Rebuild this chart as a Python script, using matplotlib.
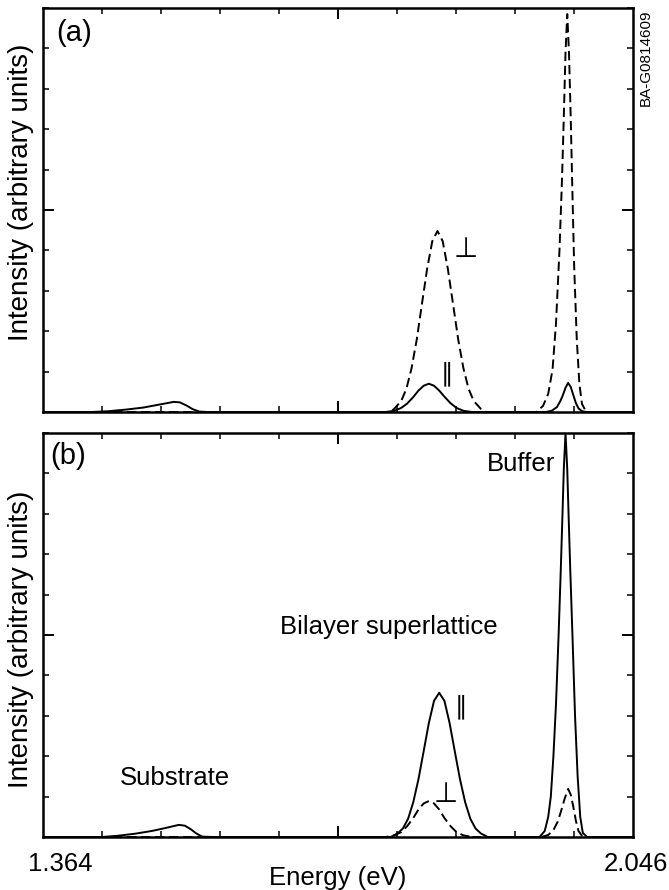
import matplotlib
matplotlib.use("Agg")
import matplotlib.pyplot as plt
from matplotlib.ticker import MultipleLocator, FixedLocator

plt.rcParams['font.family'] = ['Liberation Sans', 'DejaVu Sans']

# Energy axis limits (eV)
E_MIN, E_MAX = 1.364, 2.046

# ---- Panel (a) spectra ----
a_sub_E = [1.364, 1.420, 1.440, 1.460, 1.480, 1.495, 1.505, 1.515, 1.522, 1.530, 1.537, 1.545, 1.555, 1.760]
a_sub_I = [0.0, 0.0, 0.02, 0.06, 0.11, 0.17, 0.21, 0.25, 0.24, 0.16, 0.07, 0.01, 0.0, 0.0]

a_par_E = [1.760, 1.770, 1.778, 1.785, 1.792, 1.798, 1.804, 1.810, 1.816, 1.822, 1.828, 1.835, 1.842, 1.850, 1.860]
a_par_I = [0.0, 0.03, 0.10, 0.21, 0.37, 0.53, 0.65, 0.70, 0.65, 0.53, 0.38, 0.22, 0.10, 0.03, 0.0]

a_perp_E = [1.364, 1.766, 1.770, 1.778, 1.784, 1.790, 1.796, 1.802, 1.808, 1.814, 1.820, 1.826, 1.832,
            1.838, 1.844, 1.850, 1.856, 1.862, 1.870, 1.876]
a_perp_I = [0.0, 0.0, 0.08, 0.27, 0.57, 1.08, 1.79, 2.67, 3.54, 4.23, 4.48, 4.23, 3.54,
            2.67, 1.79, 1.08, 0.57, 0.27, 0.08, 0.0]

a_buf_perp_E = [1.876, 1.934, 1.942, 1.948, 1.953, 1.957, 1.961, 1.964, 1.966, 1.968, 1.970,
                1.972, 1.974, 1.976, 1.978, 1.981, 1.984, 1.987, 1.992, 2.046]
a_buf_perp_I = [0.0, 0.0, 0.15, 0.45, 1.05, 2.2, 4.0, 5.8, 7.3, 8.9, 9.85,
                8.9, 7.3, 5.4, 3.6, 1.8, 0.7, 0.2, 0.0, 0.0]

a_buf_par_E = [1.860, 1.945, 1.952, 1.958, 1.962, 1.965, 1.968, 1.971, 1.974, 1.977, 1.980, 1.983, 1.987, 1.992, 2.046]
a_buf_par_I = [0.0, 0.0, 0.03, 0.12, 0.27, 0.42, 0.60, 0.72, 0.62, 0.42, 0.22, 0.09, 0.02, 0.0, 0.0]

# ---- Panel (b) spectra ----
b_sub_E = [1.364, 1.432, 1.450, 1.470, 1.490, 1.505, 1.515, 1.521, 1.528, 1.535, 1.541, 1.548, 1.560, 1.766]
b_sub_I = [0.0, 0.0, 0.03, 0.08, 0.15, 0.22, 0.27, 0.30, 0.28, 0.19, 0.09, 0.01, 0.0, 0.0]

b_par_E = [1.766, 1.774, 1.780, 1.786, 1.792, 1.798, 1.804, 1.810, 1.816, 1.822, 1.828, 1.834, 1.840,
           1.846, 1.852, 1.858, 1.864, 1.870, 1.878]
b_par_I = [0.0, 0.09, 0.21, 0.45, 0.86, 1.43, 2.12, 2.82, 3.37, 3.57, 3.37, 2.82, 2.12,
           1.43, 0.86, 0.45, 0.21, 0.09, 0.0]

b_perp_E = [1.364, 1.760, 1.770, 1.778, 1.785, 1.792, 1.798, 1.804, 1.810, 1.816, 1.822, 1.828, 1.835,
            1.842, 1.850, 1.860]
b_perp_I = [0.0, 0.0, 0.04, 0.12, 0.27, 0.47, 0.68, 0.83, 0.89, 0.83, 0.68, 0.47, 0.27,
            0.12, 0.04, 0.0]

b_buf_par_E = [1.878, 1.938, 1.944, 1.948, 1.951, 1.954, 1.957, 1.960, 1.9625, 1.9645, 1.966, 1.968,
               1.970, 1.9715, 1.9735, 1.976, 1.979, 1.982, 1.985, 1.988, 1.993, 2.046]
b_buf_par_I = [0.0, 0.0, 0.15, 0.5, 1.0, 2.0, 3.3, 5.0, 6.6, 8.0, 9.1, 10.0,
               9.1, 8.0, 6.6, 5.0, 3.0, 1.5, 0.5, 0.1, 0.0, 0.0]

b_buf_perp_E = [1.860, 1.940, 1.948, 1.954, 1.959, 1.963, 1.967, 1.971, 1.974, 1.977, 1.980, 1.983, 1.987, 1.992, 2.046]
b_buf_perp_I = [0.0, 0.0, 0.05, 0.17, 0.38, 0.65, 0.95, 1.19, 1.05, 0.75, 0.40, 0.15, 0.03, 0.0, 0.0]

end_labels = ["1.364", "2.046"]

W, H = 669, 890
fig = plt.figure(figsize=(W / 100, H / 100), dpi=100)


def px_axes(left, top, right, bottom):
    return fig.add_axes([left / W, 1 - bottom / H, (right - left) / W, (bottom - top) / H])


ax_a = px_axes(43, 8, 633, 412)
ax_b = px_axes(43, 433, 633, 837)

LW = 1.4
DASH = (0, (4.8, 2.4))

for ax in (ax_a, ax_b):
    ax.set_xlim(E_MIN, E_MAX)
    ax.set_ylim(0, 10)
    span = E_MAX - E_MIN
    ax.xaxis.set_minor_locator(FixedLocator([E_MIN + span * k / 10 for k in range(1, 10)]))
    ax.xaxis.set_major_locator(FixedLocator([E_MIN + span * 0.5]))
    ax.yaxis.set_minor_locator(MultipleLocator(1))
    ax.yaxis.set_major_locator(FixedLocator([5]))
    ax.tick_params(which='both', direction='in', top=True, right=True,
                   labelbottom=False, labelleft=False, color='black')
    ax.tick_params(which='major', length=8, width=1.4)
    ax.tick_params(which='minor', length=4, width=1.1)
    for s in ax.spines.values():
        s.set_linewidth(1.8)
    ax.set_ylabel("Intensity (arbitrary units)", fontsize=20)

# The upper label sits a little above the middle of its panel
ax_a.yaxis.set_label_coords(-0.016, 0.545)
ax_b.yaxis.set_label_coords(-0.016, 0.49)

# Panel (a)
ax_a.plot(a_sub_E, a_sub_I, color='black', lw=LW)
ax_a.plot(a_par_E, a_par_I, color='black', lw=LW)
ax_a.plot(a_buf_par_E, a_buf_par_I, color='black', lw=LW)
ax_a.plot(a_perp_E, a_perp_I, color='black', lw=LW, linestyle=DASH)
ax_a.plot(a_buf_perp_E, a_buf_perp_I, color='black', lw=LW, linestyle=DASH)

ax_a.text(1.400, 9.38, "(a)", fontsize=21, ha='center', va='center')
ax_a.text(1.853, 4.01, "\u22a5", fontsize=20, ha='center', va='center')
ax_a.text(1.831, 0.94, "\u2225", fontsize=18, ha='center', va='center')

# Panel (b)
ax_b.plot(b_sub_E, b_sub_I, color='black', lw=LW)
ax_b.plot(b_par_E, b_par_I, color='black', lw=LW)
ax_b.plot(b_buf_par_E, b_buf_par_I, color='black', lw=LW)
ax_b.plot(b_perp_E, b_perp_I, color='black', lw=LW, linestyle=DASH)
ax_b.plot(b_buf_perp_E, b_buf_perp_I, color='black', lw=LW, linestyle=DASH)

ax_b.text(1.393, 9.43, "(b)", fontsize=21, ha='center', va='center')
ax_b.text(1.9166, 9.23, "Buffer", fontsize=18.5, ha='center', va='center')
ax_b.text(1.764, 5.20, "Bilayer superlattice", fontsize=18.5, ha='center', va='center')
ax_b.text(1.5166, 1.46, "Substrate", fontsize=18.5, ha='center', va='center')
ax_b.text(1.847, 3.22, "\u2225", fontsize=18, ha='center', va='center')
ax_b.text(1.830, 1.04, "\u22a5", fontsize=20, ha='center', va='center')

# Axis end values and title
fig.text(60 / W, 1 - 864 / H, end_labels[0], fontsize=18.5, ha='center', va='center')
fig.text(636 / W, 1 - 864 / H, end_labels[1], fontsize=18.5, ha='center', va='center')
fig.text(338 / W, 1 - 878 / H, "Energy (eV)", fontsize=18.5, ha='center', va='center')

fig.text(646 / W, 1 - 58 / H, "BA-G0814609", fontsize=11, rotation=90, ha='center', va='center')

fig.savefig("out.png", dpi=100, facecolor='white')
